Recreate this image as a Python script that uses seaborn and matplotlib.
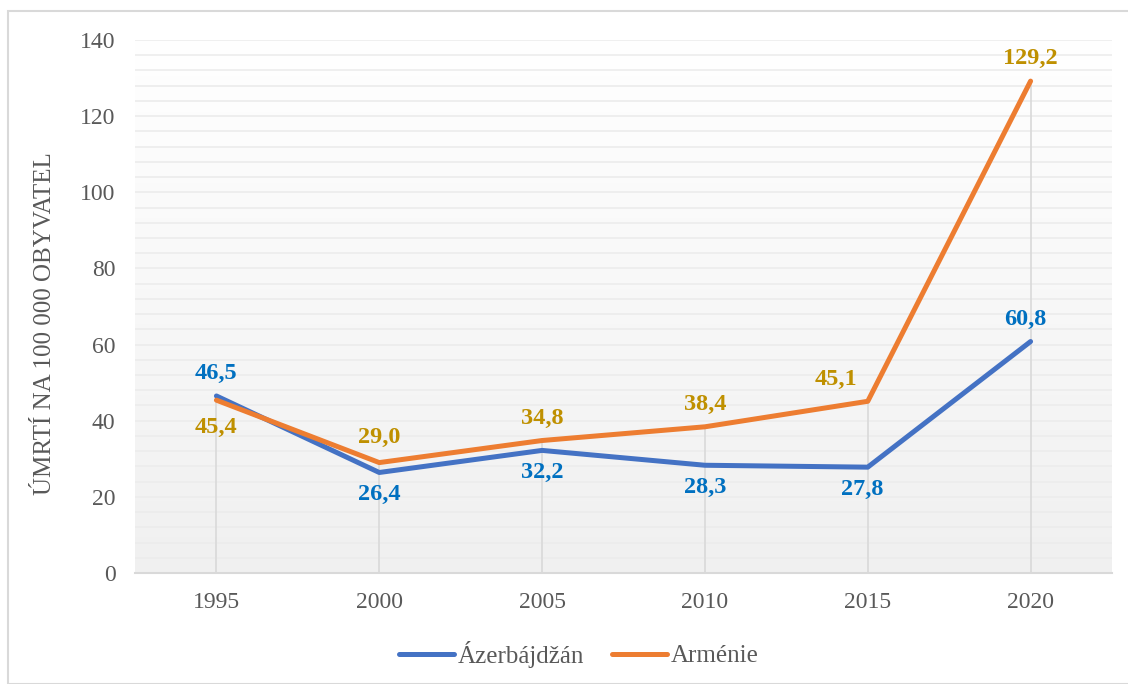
import matplotlib
matplotlib.use("Agg")
import matplotlib.pyplot as plt
import seaborn as sns
import pandas as pd
import numpy as np
from matplotlib.patches import Rectangle

roky = ["1995", "2000", "2005", "2010", "2015", "2020"]
azerbajdzan = [46.5, 26.4, 32.2, 28.3, 27.8, 60.8]
armenie = [45.4, 29.0, 34.8, 38.4, 45.1, 129.2]
serie = ["Ázerbájdžán", "Arménie"]

df = pd.DataFrame({
    "rok": roky * 2,
    "hodnota": azerbajdzan + armenie,
    "zeme": [serie[0]] * len(roky) + [serie[1]] * len(roky),
})

sns.set_theme(style="white")
plt.rcParams["font.family"] = ["Liberation Serif", "DejaVu Serif"]

barvy = {"Ázerbájdžán": "#4472c4", "Arménie": "#ed7d31"}
barvy_popisku = {"Ázerbájdžán": "#0070c0", "Arménie": "#bf9000"}

fig = plt.figure(figsize=(11.28, 6.84), dpi=100)
ax = fig.add_axes([135 / 1128, 1 - 573 / 684, 977 / 1128, 533 / 684])

# gradient pozadi
grad = np.linspace(1, 0, 256).reshape(-1, 1)
ax.imshow(grad, aspect="auto", cmap=matplotlib.colors.LinearSegmentedColormap.from_list(
    "g", ["#f0f0f0", "#ffffff"]), extent=[0, 1, 0, 1], transform=ax.transAxes, zorder=0)

# mrizka
for y in np.arange(4, 141, 4):
    ax.axhline(y, color="#ececec", lw=1.2, zorder=1)

# svisle cary
maxima = [max(a, b) for a, b in zip(azerbajdzan, armenie)]
ax.vlines(range(len(roky)), 0, maxima, color="#d9d9d9", lw=1.2, zorder=2)

sns.lineplot(data=df, x="rok", y="hodnota", hue="zeme", palette=barvy, lw=3.6,
             ax=ax, zorder=3, solid_capstyle="round", sort=False, legend=True)

# popisky hodnot
pos_az = ["above", "below", "below", "below", "below", "above"]
pos_ar = ["below", "above", "above", "above", "above", "above"]
posun_x = {(serie[1], 4): -23, (serie[0], 5): -4, (serie[0], 4): -4}
posun_y = {(serie[1], 0): -20, (serie[1], 1): 18}
for zeme, vals, pos in [(serie[0], azerbajdzan, pos_az), (serie[1], armenie, pos_ar)]:
    for i, (v, p) in enumerate(zip(vals, pos)):
        dy = 16 if p == "above" else -16
        dy = posun_y.get((zeme, i), dy)
        dx = posun_x.get((zeme, i), 0)
        ax.annotate(f"{v:.1f}".replace(".", ","), (i, v), xytext=(dx, dy),
                    textcoords="offset points", ha="center", va="center",
                    color=barvy_popisku[zeme], fontsize=17.5, fontweight="bold", zorder=4)

ax.set_xlim(-0.5, 5.5)
ax.set_ylim(0, 140)
ax.set_yticks(range(0, 141, 20))
ax.tick_params(axis="both", length=0, labelsize=17, labelcolor="#595959")
ax.tick_params(axis="x", pad=14)
ax.tick_params(axis="y", pad=14)
ax.set_xlabel("")
ax.set_ylabel("")
fig.text(45 / 1128, 1 - 324 / 684, "ÚMRTÍ NA 100 000 OBYVATEL", rotation=90,
         ha="center", va="center", fontsize=18, color="#595959")
for s in ["top", "right", "left"]:
    ax.spines[s].set_visible(False)
ax.spines["bottom"].set_color("#d9d9d9")
ax.spines["bottom"].set_linewidth(1.5)

handles, labels = ax.get_legend_handles_labels()
ax.get_legend().remove()
for h in handles:
    h.set_solid_capstyle("round")
leg = fig.legend(handles, labels, loc="center", bbox_to_anchor=(579 / 1128, 1 - 654 / 684),
                 ncol=2, frameon=False, fontsize=18, handlelength=2.2,
                 handletextpad=0.15, columnspacing=1.1)
for t in leg.get_texts():
    t.set_color("#595959")

fig.patches.append(Rectangle((8 / 1128, 0), 1 - 8 / 1128 + 0.01, 1 - 11 / 684,
                             transform=fig.transFigure, fill=False,
                             edgecolor="#d9d9d9", lw=1.5))

fig.savefig("out.png", dpi=100)
